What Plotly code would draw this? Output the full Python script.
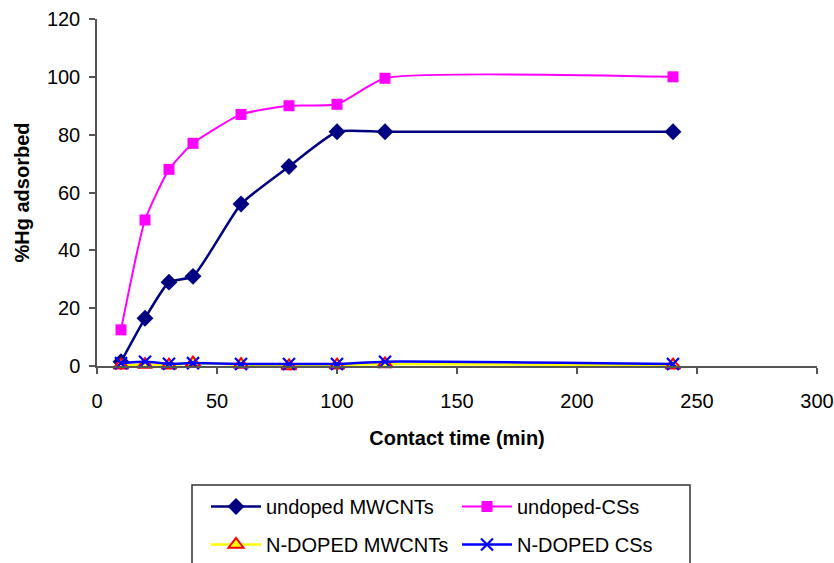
import plotly.graph_objects as go

time_min = [10, 20, 30, 40, 60, 80, 100, 120, 240]
undoped_mwcnts = [1.5, 16.5, 29, 31, 56, 69, 81, 81, 81]
undoped_css = [12.5, 50.5, 68, 77, 87, 90, 90.5, 99.5, 100]
ndoped_mwcnts = [0.3, 0.5, 0.3, 1.0, 0.5, 0.0, 0.3, 0.7, 0.3]
ndoped_css = [1.0, 1.5, 0.8, 1.0, 0.7, 0.7, 0.7, 1.5, 0.7]

x_ticks = [0, 50, 100, 150, 200, 250, 300]
y_ticks = [0, 20, 40, 60, 80, 100, 120]

FONT = "Liberation Sans, Arial, sans-serif"
SMOOTH = 0.5

fig = go.Figure()
fig.add_trace(go.Scatter(
    x=time_min, y=undoped_mwcnts, name="undoped MWCNTs", mode="lines+markers",
    line=dict(color="#000080", width=2.5, shape="spline", smoothing=SMOOTH),
    marker=dict(symbol="diamond", size=13, color="#000080"),
    cliponaxis=False, legend="legend"))
fig.add_trace(go.Scatter(
    x=time_min, y=undoped_css, name="undoped-CSs", mode="lines+markers",
    line=dict(color="#FF00FF", width=2, shape="spline", smoothing=SMOOTH),
    marker=dict(symbol="square", size=11, color="#FF00FF"),
    cliponaxis=False, legend="legend"))
fig.add_trace(go.Scatter(
    x=time_min, y=ndoped_mwcnts, name="N-DOPED MWCNTs", mode="lines+markers",
    line=dict(color="#FFFF00", width=2.5, shape="spline", smoothing=SMOOTH),
    marker=dict(symbol="triangle-up", size=13, color="#FFFF00",
                line=dict(color="#FF0000", width=2)),
    cliponaxis=False, legend="legend2"))
fig.add_trace(go.Scatter(
    x=time_min, y=ndoped_css, name="N-DOPED CSs", mode="lines+markers",
    line=dict(color="#0000FF", width=2.5, shape="spline", smoothing=SMOOTH),
    marker=dict(symbol="x-thin", size=12, color="#0000FF",
                line=dict(color="#0000FF", width=2.2)),
    cliponaxis=False, legend="legend2"))

axis_common = dict(
    showgrid=False, zeroline=False, showline=True, linecolor="#555555", linewidth=1.5,
    ticks="outside", ticklen=6, tickcolor="#555555", tickwidth=1.5, automargin=False,
    tickfont=dict(family=FONT, size=20, color="#000000"),
)

legend_common = dict(orientation="h", xref="container", yref="container",
                     xanchor="left", yanchor="top", entrywidth=186, itemwidth=50,
                     bgcolor="rgba(0,0,0,0)", font=dict(family=FONT, size=20))

fig.update_layout(
    width=834, height=563,
    margin=dict(l=97, r=17, t=19, b=197),
    paper_bgcolor="white", plot_bgcolor="white",
    font=dict(family=FONT, size=20, color="#000000"),
    xaxis=dict(range=[0, 300], tickvals=x_ticks, ticklabelstandoff=10,
               title=dict(text="<b>Contact time (min)</b>", font=dict(family=FONT, size=20),
                          standoff=20),
               **axis_common),
    yaxis=dict(range=[0, 120], tickvals=y_ticks, ticklabelstandoff=5,
               title=dict(text="<b>%Hg adsorbed</b>", font=dict(family=FONT, size=20),
                          standoff=12),
               **axis_common),
    legend=dict(x=206 / 834, y=1 - 487 / 563, **legend_common),
    legend2=dict(x=206 / 834, y=1 - 525 / 563, **legend_common),
    shapes=[dict(type="rect", xref="paper", yref="paper",
                 x0=(192 - 97) / 720, x1=(690 - 97) / 720,
                 y0=(366 - 485) / 347, y1=(366 - 600) / 347,
                 line=dict(color="#333333", width=1.5), fillcolor="rgba(0,0,0,0)")],
)

fig.write_html("out.html", config={"displayModeBar": False},
               post_script="document.body.style.margin='0';")
